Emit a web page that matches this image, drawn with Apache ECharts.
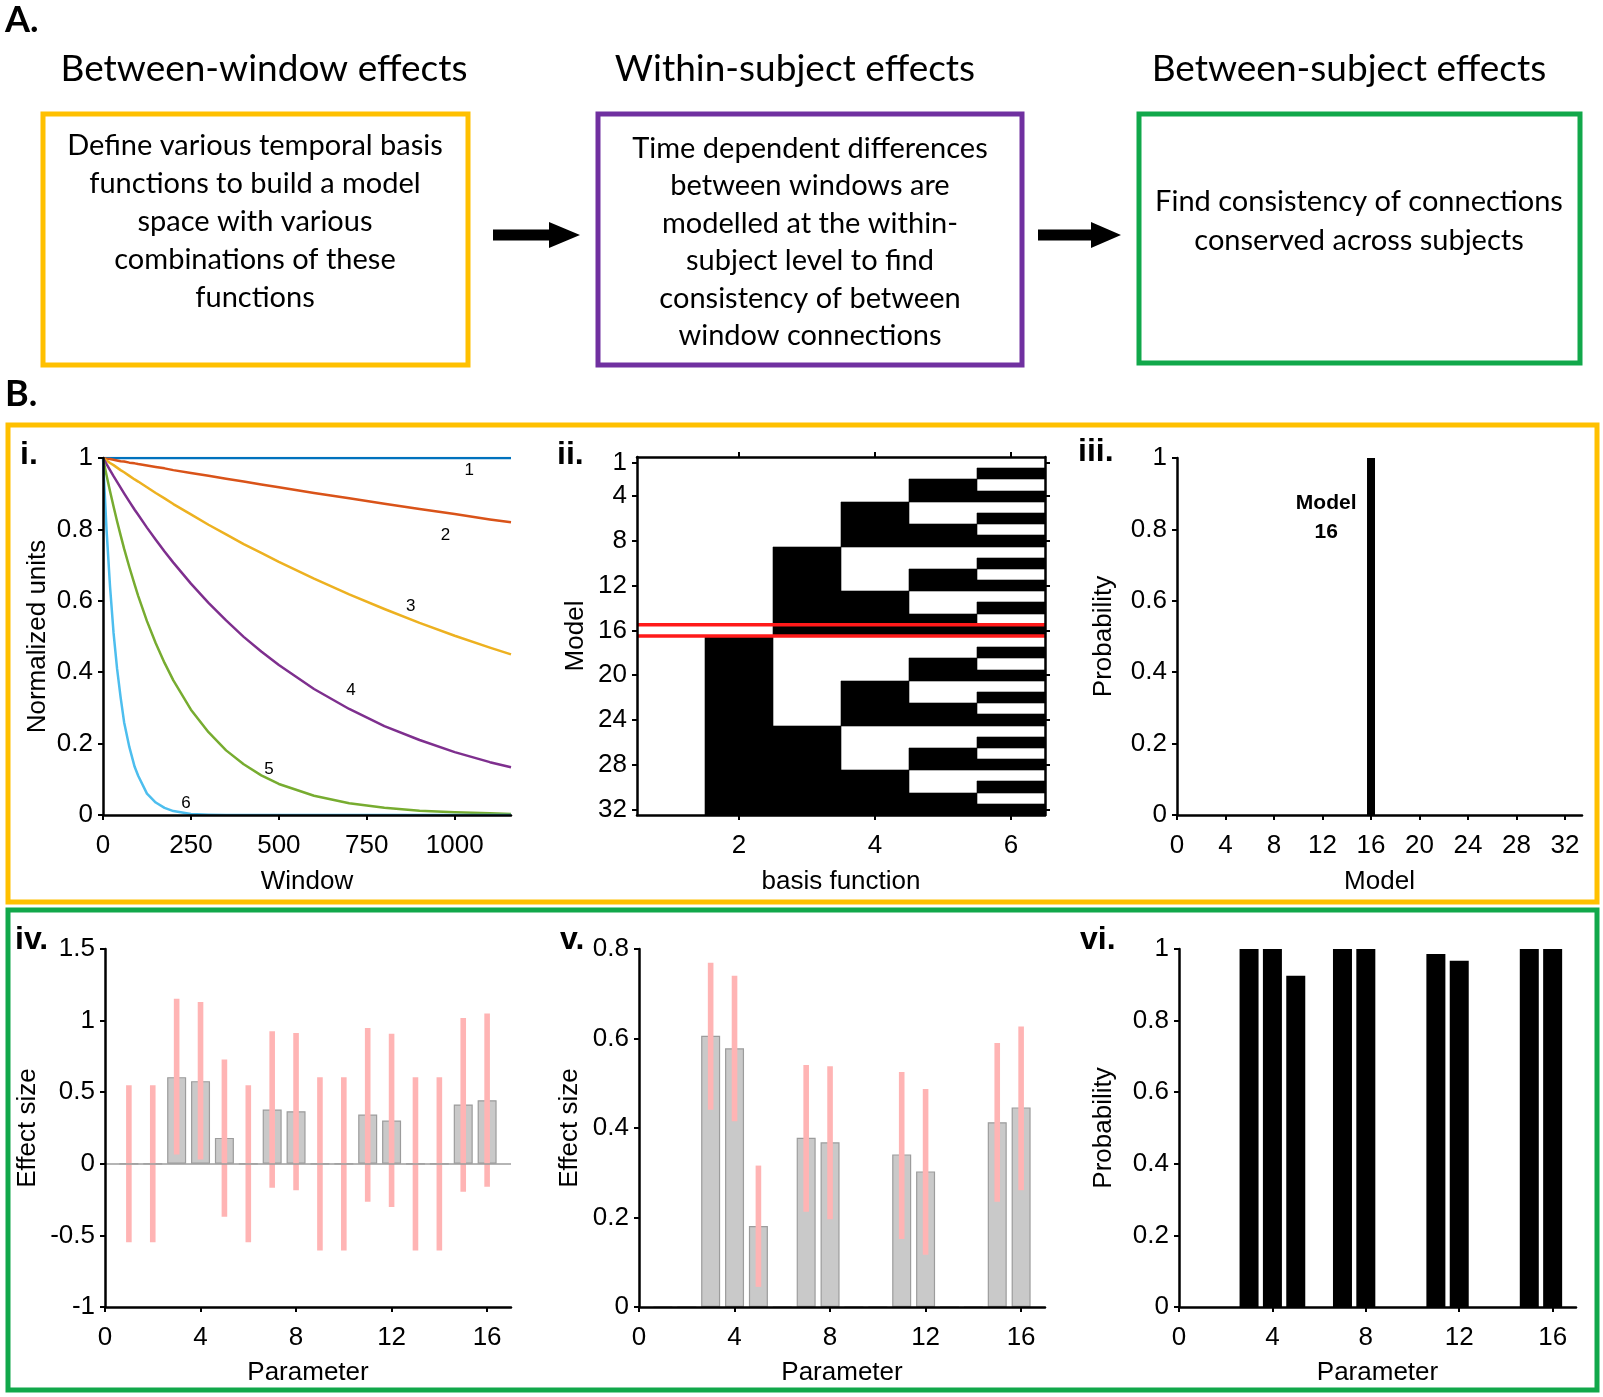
<!DOCTYPE html>
<html><head><meta charset="utf-8">
<script src="https://cdn.jsdelivr.net/npm/echarts@6/dist/echarts.min.js"></script>
<style>html,body{margin:0;padding:0;background:#fff}#c{width:1603px;height:1397px}</style>
</head><body><div id="c"></div>
<script>
// ---------- DATA ----------
// Panel i: temporal basis functions
const windowX = [0, 10, 20, 30, 40, 50, 60, 75, 90, 100, 125, 150, 175, 200, 250, 300, 350, 400, 450, 500, 600, 700, 800, 900, 1000, 1100, 1160];
const basis1 = [1, 1, 1, 1, 1, 1, 1, 1, 1, 1, 1, 1, 1, 1, 1, 1, 1, 1, 1, 1, 1, 1, 1, 1, 1, 1, 1];
const basis2 = [1, 0.998, 0.997, 0.995, 0.993, 0.991, 0.99, 0.987, 0.985, 0.983, 0.979, 0.975, 0.971, 0.966, 0.958, 0.95, 0.942, 0.934, 0.926, 0.918, 0.902, 0.887, 0.872, 0.857, 0.843, 0.828, 0.82];
const basis3 = [1, 0.993, 0.986, 0.98, 0.973, 0.966, 0.96, 0.95, 0.94, 0.934, 0.918, 0.902, 0.887, 0.871, 0.842, 0.813, 0.786, 0.759, 0.734, 0.709, 0.662, 0.618, 0.577, 0.538, 0.502, 0.469, 0.45];
const basis4 = [1, 0.983, 0.966, 0.949, 0.933, 0.917, 0.901, 0.878, 0.855, 0.841, 0.805, 0.771, 0.738, 0.707, 0.648, 0.594, 0.545, 0.499, 0.458, 0.42, 0.353, 0.297, 0.249, 0.21, 0.176, 0.148, 0.134];
const basis5 = [1, 0.952, 0.907, 0.864, 0.823, 0.784, 0.746, 0.694, 0.645, 0.614, 0.543, 0.481, 0.426, 0.377, 0.295, 0.232, 0.181, 0.142, 0.111, 0.087, 0.054, 0.033, 0.02, 0.012, 0.008, 0.005, 0.003];
const basis6 = [1, 0.8, 0.64, 0.51, 0.41, 0.33, 0.26, 0.19, 0.135, 0.11, 0.06, 0.035, 0.02, 0.011, 0.003, 0.001, 0, 0, 0, 0, 0, 0, 0, 0, 0, 0, 0];
const basisColors = ['#0072BD', '#D95319', '#EDB120', '#7E2F8E', '#77AC30', '#4DBEEE'];
const curveLabelText = ['1', '2', '3', '4', '5', '6'];
const curveLabelX = [1041, 974, 875, 705, 472, 236];
const curveLabelY = [0.966, 0.783, 0.585, 0.35, 0.129, 0.032];
const windowTicks = [0, 250, 500, 750, 1000];

// Panel ii: model space (rows = models 1..32, columns = basis functions 1..6)
const basisCats = ['1', '2', '3', '4', '5', '6'];
const modelCats = ['1','2','3','4','5','6','7','8','9','10','11','12','13','14','15','16',
                   '17','18','19','20','21','22','23','24','25','26','27','28','29','30','31','32'];
const modelRows = [
  "000000","000001","000010","000011","000100","000101","000110","000111",
  "001000","001001","001010","001011","001100","001101","001110","001111",
  "010000","010001","010010","010011","010100","010101","010110","010111",
  "011000","011001","011010","011011","011100","011101","011110","011111"];
const selectedModel = '16';

// Panel iii: model posterior probability
const modelIds = [1,2,3,4,5,6,7,8,9,10,11,12,13,14,15,16,17,18,19,20,21,22,23,24,25,26,27,28,29,30,31,32];
const modelProb = [0,0,0,0,0,0,0,0,0,0,0,0,0,0,0,1,0,0,0,0,0,0,0,0,0,0,0,0,0,0,0,0];
const modelTicks = [0, 4, 8, 12, 16, 20, 24, 28, 32];

// Panels iv-vi: parameters
const paramIds = [1,2,3,4,5,6,7,8,9,10,11,12,13,14,15,16];
const paramTicks = [0, 4, 8, 12, 16];
const ivMean = [0, 0, 0.605, 0.577, 0.181, 0, 0.379, 0.367, 0, 0, 0.344, 0.302, 0, 0, 0.414, 0.444];
const ivHigh = [0.549, 0.549, 1.153, 1.13, 0.728, 0.549, 0.926, 0.914, 0.605, 0.605, 0.949, 0.909, 0.605, 0.605, 1.019, 1.049];
const ivLow  = [-0.547, -0.547, 0.065, 0.03, -0.37, -0.547, -0.167, -0.184, -0.605, -0.605, -0.265, -0.302, -0.605, -0.605, -0.195, -0.16];
const vMean = [0, 0, 0.606, 0.578, 0.181, 0, 0.378, 0.368, 0, 0, 0.341, 0.303, 0, 0, 0.413, 0.446];
const vHigh = [null, null, 0.769, 0.74, 0.316, null, 0.541, 0.538, null, null, 0.525, 0.487, null, null, 0.59, 0.627];
const vLow  = [null, null, 0.441, 0.415, 0.045, null, 0.213, 0.196, null, null, 0.152, 0.117, null, null, 0.235, 0.261];
const viProb = [0, 0, 1, 1, 0.925, 0, 1, 1, 0, 0, 0.986, 0.967, 0, 0, 1, 1];

// ---------- CHART ----------
const AX = 'Liberation Sans';
const TF = 'Lato';
const chart = echarts.init(document.getElementById('c'), null, {renderer: 'canvas'});

function mergeAxis(base, extra) {
  for (const k in extra) {
    if (extra[k] && typeof extra[k] === 'object' && !Array.isArray(extra[k]) && base[k] && typeof base[k] === 'object')
      base[k] = Object.assign({}, base[k], extra[k]);
    else base[k] = extra[k];
  }
  return base;
}
const plain = (v) => String(v);
function vAxis(gi, extra) {
  return mergeAxis({
    type: 'value', gridIndex: gi, splitLine: {show: false}, z: 5,
    axisLine: {show: true, onZero: false, lineStyle: {color: '#000', width: 2.5}},
    axisTick: {show: true, inside: false, length: 5, lineStyle: {color: '#000', width: 2}},
    axisLabel: {color: '#000', fontFamily: AX, fontSize: 26, margin: 10, formatter: plain},
    nameLocation: 'middle', nameTextStyle: {color: '#000', fontFamily: AX, fontSize: 26}
  }, extra);
}
function cAxis(gi, extra) {
  return mergeAxis({
    type: 'category', gridIndex: gi, splitLine: {show: false}, z: 5,
    axisLine: {show: true, onZero: false, lineStyle: {color: '#000', width: 2.5}},
    axisTick: {show: true, inside: false, length: 5, alignWithLabel: true, lineStyle: {color: '#000', width: 2}},
    axisLabel: {color: '#000', fontFamily: AX, fontSize: 26, margin: 10},
    nameLocation: 'middle', nameTextStyle: {color: '#000', fontFamily: AX, fontSize: 26}
  }, extra);
}
const evenBasis = (i) => i % 2 === 1;
const modelTickSel = (i) => i === 0 || (i + 1) % 4 === 0;

const lineSeries = [basis1, basis2, basis3, basis4, basis5, basis6].map((arr, k) => ({
  type: 'line', xAxisIndex: 0, yAxisIndex: 0, showSymbol: false, symbol: 'none',
  smooth: false, z: 3 + (k === 0 ? 0 : 1),
  lineStyle: {color: basisColors[k], width: 2.5, join: 'round'},
  data: windowX.map((x, i) => [x, arr[i]])
}));

const matrixData = [];
modelRows.forEach((row, r) => { for (let c = 0; c < row.length; c++) matrixData.push([c, r, +row[c]]); });

function errBar(p, api) {
  const x = api.value(0), lo = api.value(1), hi = api.value(2);
  if (isNaN(lo) || isNaN(hi)) return null;
  const a = api.coord([x, hi]), b = api.coord([x, lo]);
  return {type: 'rect', shape: {x: a[0] - 2.8, y: a[1], width: 5.6, height: b[1] - a[1]}, style: {fill: '#ffb4b4'}};
}
const FMT18 = 18, NG = 54;
const plainLabel = {textBorderWidth: 0, textBorderColor: 'transparent', textShadowBlur: 0, opacity: 1};

const option = {
  animation: false,
  backgroundColor: '#fff',
  grid: [
    {left: 103, top: 458, width: 408, height: 357},
    {left: 637, top: 457, width: 408, height: 358},
    {left: 1177, top: 458, width: 405, height: 357},
    {left: 105, top: 949, width: 406, height: 358},
    {left: 639, top: 949, width: 406, height: 358},
    {left: 1179, top: 949, width: 397, height: 358}
  ],
  xAxis: [
    vAxis(0, {min: 0, max: 1160, axisLabel: {customValues: windowTicks, margin: FMT18}, axisTick: {customValues: windowTicks}, name: 'Window', nameGap: NG}),
    cAxis(1, {data: basisCats, position: 'bottom', axisLabel: {interval: evenBasis, margin: FMT18}, axisTick: {interval: evenBasis}, name: 'basis function', nameGap: NG}),
    cAxis(1, {data: basisCats, position: 'top', axisLabel: {show: false}, axisTick: {interval: evenBasis}}),
    vAxis(2, {min: 0, max: 33.4, axisLabel: {customValues: modelTicks, margin: FMT18}, axisTick: {customValues: modelTicks}, name: 'Model', nameGap: NG}),
    vAxis(3, {min: 0, max: 17, axisLabel: {customValues: paramTicks, margin: FMT18}, axisTick: {customValues: paramTicks}, name: 'Parameter', nameGap: 53}),
    vAxis(4, {min: 0, max: 17, axisLabel: {customValues: paramTicks, margin: FMT18}, axisTick: {customValues: paramTicks}, name: 'Parameter', nameGap: 53}),
    vAxis(5, {min: 0, max: 17, axisLabel: {customValues: paramTicks, margin: FMT18}, axisTick: {customValues: paramTicks}, name: 'Parameter', nameGap: 53})
  ],
  yAxis: [
    vAxis(0, {min: 0, max: 1, interval: 0.2, name: 'Normalized units', nameGap: 52}),
    cAxis(1, {data: modelCats, inverse: true, axisLabel: {interval: modelTickSel}, axisTick: {interval: modelTickSel}, name: 'Model', nameGap: 48}),
    cAxis(1, {data: modelCats, inverse: true, position: 'right', axisLabel: {show: false}, axisTick: {interval: modelTickSel}}),
    vAxis(2, {min: 0, max: 1, interval: 0.2, name: 'Probability', nameGap: 60}),
    vAxis(3, {min: -1, max: 1.5, interval: 0.5, name: 'Effect size', nameGap: 64}),
    vAxis(4, {min: 0, max: 0.8, interval: 0.2, name: 'Effect size', nameGap: 56}),
    vAxis(5, {min: 0, max: 1, interval: 0.2, name: 'Probability', nameGap: 62})
  ],
  series: [
    ...lineSeries,
    { // 6: curve number labels
      type: 'scatter', xAxisIndex: 0, yAxisIndex: 0, symbolSize: 0, z: 6,
      itemStyle: {opacity: 1},
      data: curveLabelX.map((x, i) => [x, curveLabelY[i], curveLabelText[i]]),
      label: Object.assign({show: true, position: 'inside', formatter: (p) => p.value[2], color: '#000', fontFamily: AX, fontSize: 17}, plainLabel),
      emphasis: {disabled: true}
    },
    { // 7: model space matrix
      type: 'custom', xAxisIndex: 1, yAxisIndex: 1, z: 2,
      data: matrixData, encode: {x: 0, y: 1},
      renderItem: (p, api) => {
        if (!api.value(2)) return null;
        const c = api.coord([api.value(0), api.value(1)]);
        const s = api.size([1, 1]);
        const x0 = Math.round(c[0] - s[0] / 2), x1 = Math.round(c[0] + s[0] / 2);
        const y0 = Math.round(c[1] - s[1] / 2), y1 = Math.round(c[1] + s[1] / 2);
        return {type: 'rect', shape: {x: x0, y: y0, width: x1 - x0, height: y1 - y0},
          style: {fill: '#000', stroke: '#000', lineWidth: 0.6}};
      }
    },
    { // 8: highlighted model
      type: 'custom', xAxisIndex: 1, yAxisIndex: 1, z: 4,
      data: [[basisCats[0], selectedModel]],
      encode: {x: 0, y: 1},
      renderItem: (p, api) => {
        const c = api.coord([api.value(0), api.value(1)]);
        const s = api.size([1, 1]);
        const left = c[0] - s[0] / 2, right = left + s[0] * basisCats.length;
        const t = c[1] - s[1] / 2, b = c[1] + s[1] / 2;
        return {type: 'group', children: [
          {type: 'line', shape: {x1: left, y1: t, x2: right, y2: t}, style: {stroke: '#ff1a1a', lineWidth: 3.5}},
          {type: 'line', shape: {x1: left, y1: b, x2: right, y2: b}, style: {stroke: '#ff1a1a', lineWidth: 3.5}}
        ]};
      }
    },
    { // 9: model probability
      type: 'bar', xAxisIndex: 3, yAxisIndex: 3, barWidth: 8,
      itemStyle: {color: '#000'},
      data: modelIds.map((m, i) => [m, modelProb[i]])
    },
    { // 10: annotation
      type: 'scatter', xAxisIndex: 3, yAxisIndex: 3, symbolSize: 0, z: 6,
      itemStyle: {opacity: 1},
      data: [[12.3, 0.832, 'Model\n16']],
      label: Object.assign({show: true, position: 'inside', formatter: (p) => p.value[2], color: '#000',
        fontFamily: AX, fontSize: 21, fontWeight: 'bold', lineHeight: 29, align: 'center'}, plainLabel),
      emphasis: {disabled: true}
    },
    { // 11: iv bars
      type: 'bar', xAxisIndex: 4, yAxisIndex: 4, barWidth: 19,
      itemStyle: {color: '#c9c9c9', borderColor: '#9c9c9c', borderWidth: 1.2},
      data: paramIds.map((p, i) => [p, ivMean[i]]),
      markLine: {silent: true, symbol: 'none', label: {show: false}, animation: false,
        lineStyle: {color: '#9c9c9c', width: 1.5, type: 'solid'}, data: [{yAxis: 0}]}
    },
    { // 12: iv error bars
      type: 'custom', xAxisIndex: 4, yAxisIndex: 4, z: 4, renderItem: errBar,
      data: paramIds.map((p, i) => [p, ivLow[i], ivHigh[i]])
    },
    { // 13: v bars
      type: 'bar', xAxisIndex: 5, yAxisIndex: 5, barWidth: 19,
      itemStyle: {color: '#c9c9c9', borderColor: '#9c9c9c', borderWidth: 1.2},
      data: paramIds.map((p, i) => [p, vMean[i]])
    },
    { // 14: v error bars
      type: 'custom', xAxisIndex: 5, yAxisIndex: 5, z: 4, renderItem: errBar,
      data: paramIds.map((p, i) => [p, vLow[i] === null ? NaN : vLow[i], vHigh[i] === null ? NaN : vHigh[i]])
    },
    { // 15: vi bars
      type: 'bar', xAxisIndex: 6, yAxisIndex: 6, barWidth: 19,
      itemStyle: {color: '#000'},
      data: paramIds.map((p, i) => [p, viProb[i]])
    }
  ],
  graphic: [
    // panel frames
    {type: 'rect', shape: {x: 8, y: 425, width: 1589, height: 477}, style: {fill: 'none', stroke: '#FFC000', lineWidth: 5}, z: -1},
    {type: 'rect', shape: {x: 8, y: 910, width: 1589, height: 480}, style: {fill: 'none', stroke: '#11A84A', lineWidth: 5}, z: -1},
    // top boxes
    {type: 'rect', shape: {x: 43, y: 114, width: 425, height: 251}, style: {fill: 'none', stroke: '#FFC000', lineWidth: 5}},
    {type: 'rect', shape: {x: 598, y: 114, width: 424, height: 251}, style: {fill: 'none', stroke: '#7030A0', lineWidth: 5}},
    {type: 'rect', shape: {x: 1139, y: 114, width: 441, height: 249}, style: {fill: 'none', stroke: '#11A84A', lineWidth: 5}},
    // arrows
    {type: 'polygon', shape: {points: [[493, 229.5], [549, 229.5], [549, 222], [580, 235], [549, 248], [549, 240.5], [493, 240.5]]}, style: {fill: '#000'}},
    {type: 'polygon', shape: {points: [[1038, 229.5], [1091, 229.5], [1091, 222], [1121, 235], [1091, 248], [1091, 240.5], [1038, 240.5]]}, style: {fill: '#000'}},
    // section letters
    {type: 'text', x: 5, y: 20, style: {text: 'A.', fontFamily: TF, fontSize: 36, fontWeight: 'bold', fill: '#000', verticalAlign: 'middle'}},
    {type: 'text', x: 5, y: 394, style: {text: 'B.', fontFamily: TF, fontSize: 36, fontWeight: 'bold', fill: '#000', verticalAlign: 'middle'}},
    // titles
    {type: 'text', x: 264, y: 69, style: {text: 'Between-window effects', fontFamily: TF, fontSize: 37, fill: '#000', align: 'center', verticalAlign: 'middle'}},
    {type: 'text', x: 795, y: 69, style: {text: 'Within-subject effects', fontFamily: TF, fontSize: 37, fill: '#000', align: 'center', verticalAlign: 'middle'}},
    {type: 'text', x: 1349, y: 69, style: {text: 'Between-subject effects', fontFamily: TF, fontSize: 37, fill: '#000', align: 'center', verticalAlign: 'middle'}},
    // box texts
    {type: 'text', x: 255, y: 222, style: {text: 'Define various temporal basis\nfunctions to build a model\nspace with various\ncombinations of these\nfunctions', fontFamily: TF, fontSize: 29, lineHeight: 38, fill: '#000', align: 'center', verticalAlign: 'middle'}},
    {type: 'text', x: 810, y: 242, style: {text: 'Time dependent differences\nbetween windows are\nmodelled at the within-\nsubject level to find\nconsistency of between\nwindow connections', fontFamily: TF, fontSize: 29, lineHeight: 37.5, fill: '#000', align: 'center', verticalAlign: 'middle'}},
    {type: 'text', x: 1359, y: 221, style: {text: 'Find consistency of connections\nconserved across subjects', fontFamily: TF, fontSize: 29, lineHeight: 39, fill: '#000', align: 'center', verticalAlign: 'middle'}},
    // panel labels
    {type: 'text', x: 20, y: 455, style: {text: 'i.', fontFamily: AX, fontSize: 32, fontWeight: 'bold', fill: '#000', verticalAlign: 'middle'}},
    {type: 'text', x: 557, y: 455, style: {text: 'ii.', fontFamily: AX, fontSize: 32, fontWeight: 'bold', fill: '#000', verticalAlign: 'middle'}},
    {type: 'text', x: 1078, y: 452, style: {text: 'iii.', fontFamily: AX, fontSize: 32, fontWeight: 'bold', fill: '#000', verticalAlign: 'middle'}},
    {type: 'text', x: 15, y: 940, style: {text: 'iv.', fontFamily: AX, fontSize: 32, fontWeight: 'bold', fill: '#000', verticalAlign: 'middle'}},
    {type: 'text', x: 560, y: 940, style: {text: 'v.', fontFamily: AX, fontSize: 32, fontWeight: 'bold', fill: '#000', verticalAlign: 'middle'}},
    {type: 'text', x: 1080, y: 940, style: {text: 'vi.', fontFamily: AX, fontSize: 32, fontWeight: 'bold', fill: '#000', verticalAlign: 'middle'}}
  ]
};
chart.setOption(option);
</script></body></html>
